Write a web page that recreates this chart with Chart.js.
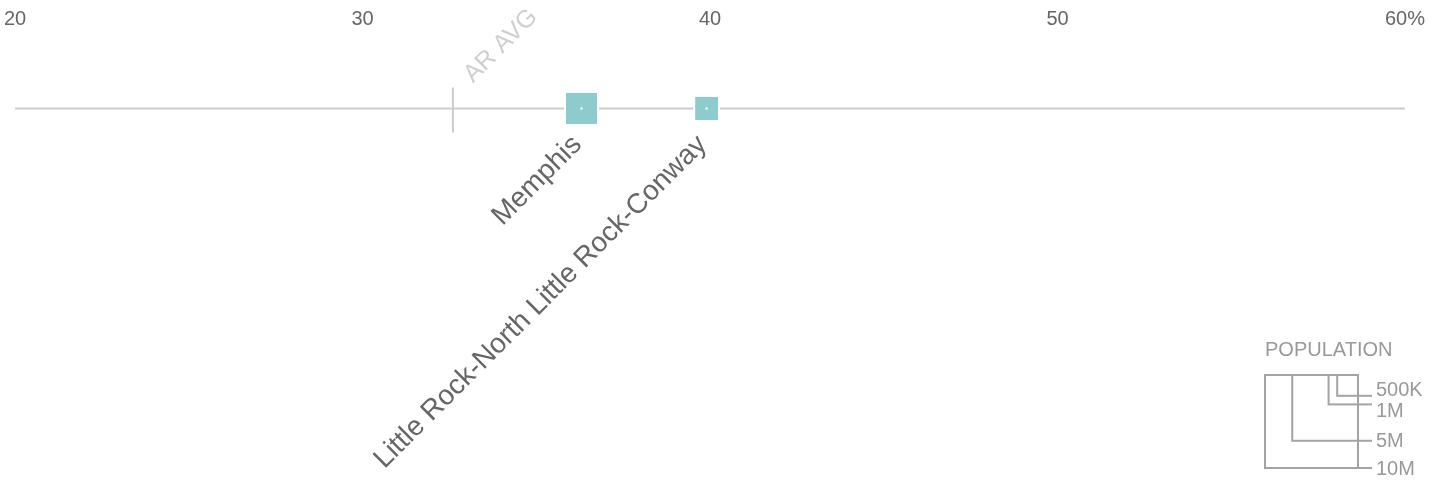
<!DOCTYPE html>
<html>
<head>
<meta charset="utf-8">
<script src="https://cdn.jsdelivr.net/npm/chart.js@4.4.1/dist/chart.umd.min.js"></script>
<style>
  html, body { margin: 0; padding: 0; background: #fff; }
  #wrap { width: 1433px; height: 480px; position: relative; }
</style>
</head>
<body>
<div id="wrap"><canvas id="chart"></canvas></div>
<script>
const cities = ['Memphis', 'Little Rock-North Little Rock-Conway'];
const shares = [36.3, 39.9];
const populations = [1110000, 600000];
const stateAvg = 32.6;
const stateAvgLabel = 'AR AVG';
const xMin = 20;
const xMax = 60;
const legendPops = [10000000, 5000000, 1000000, 500000];
const legendLabels = ['10M', '5M', '1M', '500K'];

const TEAL = '#8ecbcd';
const LINE_GREY = '#cccccc';
const TEXT_GREY = '#666666';
const LEGEND_GREY = '#a3a3a3';
const FONT = '"Liberation Sans", Arial, sans-serif';

// square side in px for a population (10M -> 93px)
function sideFor(pop) {
	return 93 * Math.sqrt(pop / 10000000);
}

const overlay = {
	id: 'overlay',
	afterDatasetsDraw(chart) {
		const { ctx, scales } = chart;
		const x = scales.x;
		const y0 = scales.y.getPixelForValue(0);

		// state average tick
		const ax = x.getPixelForValue(stateAvg);
		ctx.save();
		ctx.strokeStyle = LINE_GREY;
		ctx.lineWidth = 2;
		ctx.beginPath();
		ctx.moveTo(ax, y0 - 21);
		ctx.lineTo(ax, y0 + 24);
		ctx.stroke();

		ctx.translate(ax + 20, y0 - 25);
		ctx.rotate(-Math.PI / 4);
		ctx.font = '25px ' + FONT;
		ctx.fillStyle = '#cfcfcf';
		ctx.textAlign = 'left';
		ctx.textBaseline = 'alphabetic';
		ctx.fillText(stateAvgLabel, 0, 0);
		ctx.restore();

		// city labels
		cities.forEach((name, i) => {
			const cx = x.getPixelForValue(shares[i]);
			ctx.save();
			ctx.translate(cx - 14, y0 + 22);
			ctx.rotate(-Math.PI / 4);
			ctx.font = '28px ' + FONT;
			ctx.fillStyle = TEXT_GREY;
			ctx.textAlign = 'right';
			ctx.textBaseline = 'top';
			ctx.fillText(name, 0, 0);
			ctx.restore();
		});

		// population legend
		const right = 1358;
		const bottomBig = 468;
		const top = bottomBig - sideFor(legendPops[0]);
		ctx.save();
		ctx.font = '20px ' + FONT;
		ctx.fillStyle = '#999999';
		ctx.textAlign = 'left';
		ctx.textBaseline = 'middle';
		ctx.fillText('POPULATION', Math.round(right - sideFor(legendPops[0])), top - 25);
		ctx.strokeStyle = LEGEND_GREY;
		ctx.lineWidth = 2;
		legendPops.forEach((pop) => {
			const s = sideFor(pop);
			ctx.strokeRect(right - s, top, s, s);
			ctx.beginPath();
			ctx.moveTo(right, top + s);
			ctx.lineTo(right + 14, top + s);
			ctx.stroke();
		});
		const labelYs = legendPops.map(p => top + sideFor(p) + 1);
		// spread the two small labels apart around their lines
		const mid = (labelYs[2] + labelYs[3]) / 2;
		labelYs[3] = mid - 11;
		labelYs[2] = mid + 10;
		legendLabels.forEach((lab, i) => {
			ctx.fillText(lab, right + 18, labelYs[i]);
		});
		ctx.restore();
	}
};

const squareData = shares.map((v) => ({ x: v, y: 0 }));

new Chart(document.getElementById('chart'), {
	type: 'scatter',
	data: {
		datasets: [
			{
				data: [{ x: xMin, y: 0 }, { x: xMax, y: 0 }],
				showLine: true,
				borderColor: LINE_GREY,
				borderWidth: 2,
				pointRadius: 0,
				order: 3
			},
			{
				data: squareData,
				pointStyle: 'rect',
				pointRadius: populations.map(p => (sideFor(p) + 2) / (2 * Math.SQRT1_2)),
				backgroundColor: TEAL,
				borderColor: '#ffffff',
				borderWidth: 2,
				order: 2
			},
			{
				data: squareData,
				pointStyle: 'rect',
				pointRadius: 1.5,
				backgroundColor: '#ffffff',
				borderWidth: 0,
				order: 1
			}
		]
	},
	options: {
		responsive: true,
		maintainAspectRatio: false,
		animation: false,
		layout: {
			autoPadding: false,
			padding: { left: 5, right: 28, top: 3, bottom: 298 }
		},
		plugins: {
			legend: { display: false },
			tooltip: { enabled: false }
		},
		scales: {
			x: {
				type: 'linear',
				position: 'top',
				min: xMin,
				max: xMax,
				grid: { display: false, drawTicks: false },
				border: { display: false },
				ticks: {
					stepSize: 10,
					padding: 4,
					color: TEXT_GREY,
					font: { family: FONT, size: 20 },
					maxRotation: 0,
					callback: v => v === xMax ? v + '%' : String(v)
				}
			},
			y: {
				display: false,
				min: -1,
				max: 1
			}
		}
	},
	plugins: [overlay]
});
</script>
</body>
</html>
